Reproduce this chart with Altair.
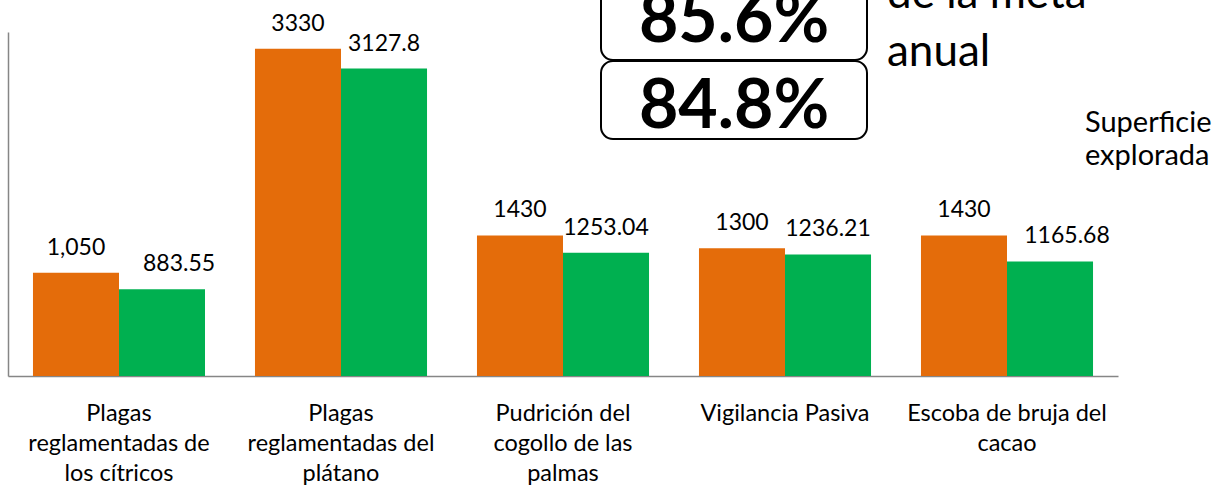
import altair as alt
import pandas as pd

categories = [
    "Plagas|reglamentadas de|los cítricos",
    "Plagas|reglamentadas del|plátano",
    "Pudrición del|cogollo de las|palmas",
    "Vigilancia Pasiva",
    "Escoba de bruja del|cacao",
]
series_names = ["Meta", "Superficie explorada"]
meta_values = [1050, 3330, 1430, 1300, 1430]
explorada_values = [883.55, 3127.8, 1253.04, 1236.21, 1165.68]
meta_labels = ["1,050", "3330", "1430", "1300", "1430"]
explorada_labels = ["883.55", "3127.8", "1253.04", "1236.21", "1165.68"]
# labels that sit moved to the right of their bar in the original
moved_labels = ["883.55", "1165.68"]
colors = ["#E46C0A", "#00B050"]

pct_meta = "85.6%"
pct_explorada = "84.8%"
note_meta = ["de la meta", "anual"]
note_explorada = ["Superficie", "explorada"]

rows = []
for c, v, l in zip(categories, meta_values, meta_labels):
    rows.append({"category": c, "series": series_names[0], "value": v, "label": l})
for c, v, l in zip(categories, explorada_values, explorada_labels):
    rows.append({"category": c, "series": series_names[1], "value": v, "label": l})
df = pd.DataFrame(rows)

FONT = "Lato"

x = alt.X(
    "category:N",
    sort=categories,
    scale=alt.Scale(paddingInner=0.225, paddingOuter=0.1125),
    axis=alt.Axis(
        title=None,
        labelExpr="split(datum.label, '|')",
        labelAngle=0,
        ticks=False,
        domainColor="#868686",
        domainWidth=1.5,
        labelFont=FONT,
        labelFontSize=23.5,
        labelColor="#000000",
        labelPadding=25,
        labelLineHeight=30,
        labelBaseline="top",
        labelLimit=400,
    ),
)
xo = alt.XOffset("series:N", sort=series_names, scale=alt.Scale(paddingInner=0, paddingOuter=0))
y = alt.Y(
    "value:Q",
    scale=alt.Scale(domain=[0, 3500], nice=False),
    axis=alt.Axis(title=None, labels=False, ticks=False, grid=False,
                  domainColor="#868686", domainWidth=1.5),
)
color = alt.Color("series:N", scale=alt.Scale(domain=series_names, range=colors), legend=None)

moved_expr = "indexof(" + str(moved_labels).replace("'", '"') + ", datum.label) >= 0"

base = alt.Chart(df)
bars = base.mark_bar().encode(x=x, xOffset=xo, y=y, color=color)
labels = base.mark_text(font=FONT, fontSize=23, baseline="alphabetic", dy=-18, color="#000000").encode(
    x=x, xOffset=xo, y=y, text="label:N"
).transform_filter("!(" + moved_expr + ")")
labels_moved = base.mark_text(font=FONT, fontSize=23, baseline="alphabetic", dy=-18, dx=17,
                              color="#000000").encode(
    x=x, xOffset=xo, y=y, text="label:N"
).transform_filter(moved_expr)

one = alt.Data(values=[{"k": 1}])

box1 = alt.Chart(one).mark_rect(cornerRadius=12, stroke="#000000", strokeWidth=2, fill="white").encode(
    x=alt.value(593), x2=alt.value(859), y=alt.value(-60), y2=alt.value(28)
)
box2 = alt.Chart(one).mark_rect(cornerRadius=12, stroke="#000000", strokeWidth=2, fill="white").encode(
    x=alt.value(593), x2=alt.value(859), y=alt.value(29), y2=alt.value(107)
)
t1 = alt.Chart(one).mark_text(font=FONT, fontSize=68, fontWeight="bold", align="center",
                              baseline="alphabetic", color="#000000").encode(
    x=alt.value(726), y=alt.value(10), text=alt.value(pct_meta)
)
t2 = alt.Chart(one).mark_text(font=FONT, fontSize=68, fontWeight="bold", align="center",
                              baseline="alphabetic", color="#000000").encode(
    x=alt.value(726), y=alt.value(96), text=alt.value(pct_explorada)
)
t3 = alt.Chart(one).mark_text(font=FONT, fontSize=44, align="left", baseline="alphabetic",
                              lineHeight=58, color="#000000").encode(
    x=alt.value(879), y=alt.value(-24), text=alt.value(note_meta)
)
t4 = alt.Chart(one).mark_text(font=FONT, fontSize=29, align="left", baseline="alphabetic",
                              lineHeight=33, color="#000000").encode(
    x=alt.value(1077), y=alt.value(100), text=alt.value(note_explorada)
)

chart = alt.layer(bars, labels, labels_moved, box1, box2, t1, t2, t3, t4).properties(
    width=1110,
    height=344,
    autosize=alt.AutoSizeParams(type="none"),
    padding={"left": 8, "top": 32, "right": 98, "bottom": 110},
    background="white",
).configure_view(stroke=None)

chart.save("out.html", embed_options={"renderer": "svg", "actions": False})
